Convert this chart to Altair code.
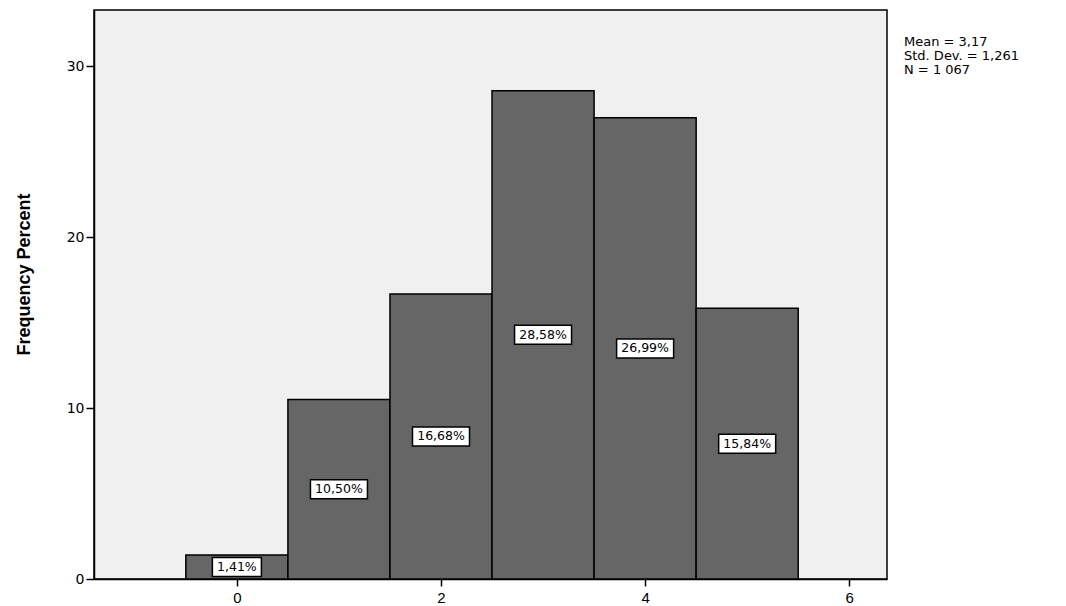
import altair as alt
import pandas as pd

scores = [0, 1, 2, 3, 4, 5]
percents = [1.41, 10.50, 16.68, 28.58, 26.99, 15.84]
labels = ["1,41%", "10,50%", "16,68%", "28,58%", "26,99%", "15,84%"]
stats = ["Mean = 3,17", "Std. Dev. = 1,261", "N = 1 067"]
x_ticks = [0, 2, 4, 6]
y_ticks = [0, 10, 20, 30]

df = pd.DataFrame({"score": scores, "pct": percents, "label": labels})

xs = alt.Scale(domain=[-1.4, 6.37], nice=False, zero=False)
ys = alt.Scale(domain=[0, 33.3], nice=False, zero=False)

base = alt.Chart(df).transform_calculate(
    lo="datum.score - 0.5", hi="datum.score + 0.5", mid="datum.pct / 2",
    n="length(datum.label)"
)

bars = base.mark_rect(fill="#666666", stroke="#000000", strokeWidth=1.5).encode(
    x=alt.X("lo:Q", scale=xs, axis=alt.Axis(values=x_ticks, format="d", title=None, grid=False,
                                              labelFont="Liberation Sans", labelFontSize=15,
                                              tickSize=7, labelPadding=4)),
    x2="hi:Q",
    y=alt.Y("pct:Q", scale=ys, axis=alt.Axis(values=y_ticks, format="d", title="Frequency Percent", grid=False,
                                               labelFont="DejaVu Sans", labelFontSize=14,
                                               tickSize=8, labelPadding=2,
                                               titleFont="Liberation Sans", titleFontWeight="bold",
                                               titleFontSize=18, titleAngle=-90, titleX=-70, titleY=264,
                                               titleAlign="center", titleBaseline="middle")),
    y2=alt.datum(0),
)

path6 = "M-1,-0.333L1,-0.333L1,0.333L-1,0.333Z"
path5 = "M-0.86,-0.333L0.86,-0.333L0.86,0.333L-0.86,0.333Z"

boxes = base.mark_point(filled=True, fill="white", stroke="black", strokeWidth=1.5, opacity=1, size=3249).encode(
    x=alt.X("score:Q", scale=xs),
    y=alt.Y("mid:Q", scale=ys),
    shape=alt.Shape("n:O", scale=alt.Scale(domain=[5, 6], range=[path5, path6]), legend=None),
)

texts = base.mark_text(font="DejaVu Sans", fontSize=12.5, color="black", baseline="middle").encode(
    x=alt.X("score:Q", scale=xs),
    y=alt.Y("mid:Q", scale=ys),
    text="label:N",
)

info = alt.Chart(pd.DataFrame({"k": [0]})).mark_text(
    text=stats, align="left", baseline="top", font="DejaVu Sans", fontSize=13,
    lineHeight=14, color="black"
).encode(x=alt.value(810), y=alt.value(26))

chart = alt.layer(bars, boxes, texts, info).properties(
    width=793, height=569,
    autosize=alt.AutoSizeParams(type="none"),
    padding={"left": 86, "top": 2, "right": 170, "bottom": 26},
    background="white",
).configure_view(
    fill="#F0F0F0", stroke="black", strokeWidth=1.5
).configure_axis(
    domainColor="black", domainWidth=1.5, tickColor="black", tickWidth=1.5,
    labelColor="black", titleColor="black"
)

chart.save("out.html", embed_options={"renderer": "svg", "actions": False})
